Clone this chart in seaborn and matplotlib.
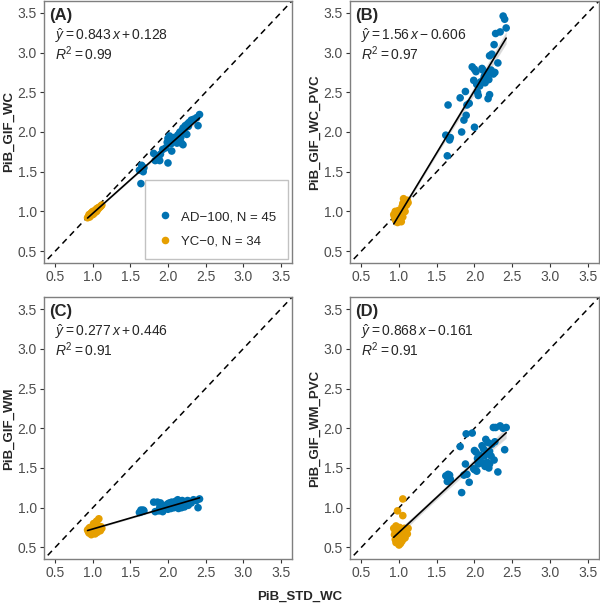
import pandas as pd
import matplotlib.pyplot as plt
import seaborn as sns

# PiB_STD_WC values (x, shared by all four panels)
ad_x = [1.62, 1.64, 1.65, 1.67, 1.68, 1.81, 1.83, 1.86, 1.88, 1.89,
        1.90, 1.93, 1.97, 1.99, 2.00, 2.00, 2.02, 2.03, 2.04, 2.05,
        2.07, 2.08, 2.10, 2.11, 2.12, 2.13, 2.14, 2.15, 2.16, 2.17,
        2.18, 2.19, 2.20, 2.20, 2.22, 2.23, 2.25, 2.26, 2.27, 2.28,
        2.31, 2.34, 2.38, 2.40, 2.42]
yc_x = [0.93, 0.94, 0.95, 0.95, 0.96, 0.96, 0.97, 0.97, 0.98, 0.98,
        0.99, 0.99, 1.00, 1.00, 1.00, 1.01, 1.01, 1.02, 1.02, 1.03,
        1.03, 1.04, 1.04, 1.05, 1.05, 1.06, 1.06, 1.07, 1.08, 1.09,
        1.10, 1.11, 1.12, 1.05]

# y values per panel
ad_gif_wc = [1.52, 1.35, 1.58, 1.50, 1.55, 1.73, 1.64, 1.66, 1.70, 1.64,
             1.72, 1.78, 1.80, 1.87, 1.61, 1.92, 1.95, 1.90, 1.85, 1.76,
             1.88, 1.93, 1.92, 1.90, 1.86, 1.96, 1.90, 1.98, 2.00, 1.93,
             1.86, 2.02, 1.84, 2.05, 2.04, 2.08, 1.97, 2.10, 2.07, 2.12,
             2.15, 2.16, 2.18, 2.08, 2.22]
yc_gif_wc = [0.92, 0.93, 0.94, 0.96, 0.93, 0.95, 0.95, 0.97, 0.96, 0.98,
             0.97, 0.99, 0.96, 0.98, 1.00, 0.97, 0.99, 0.98, 1.00, 0.99,
             1.01, 1.00, 1.02, 1.01, 1.03, 1.02, 1.04, 1.03, 1.05, 1.05,
             1.06, 1.07, 1.08, 1.00]

ad_gif_wc_pvc = [1.96, 1.70, 2.34, 1.90, 1.93, 2.43, 2.00, 2.15, 2.51, 2.21,
                 2.34, 2.36, 2.82, 2.65, 2.06, 2.79, 2.76, 2.60, 2.50, 2.46,
                 2.58, 2.63, 2.80, 2.78, 2.66, 2.70, 2.62, 2.75, 2.68, 2.72,
                 2.42, 2.66, 2.47, 2.96, 2.78, 2.98, 2.73, 3.10, 2.75, 3.24,
                 2.87, 3.26, 3.46, 3.42, 3.31]
yc_gif_wc_pvc = [0.96, 0.93, 0.90, 1.00, 0.88, 0.97, 0.93, 0.99, 0.86, 0.95,
                 0.90, 1.01, 0.92, 0.97, 0.88, 1.00, 0.94, 0.96, 0.90, 1.02,
                 0.87, 0.98, 1.06, 0.93, 1.10, 0.99, 1.16, 1.04, 1.00, 1.13,
                 1.08, 1.14, 1.11, 1.02]

ad_gif_wm = [0.94, 0.97, 0.95, 0.97, 0.96, 1.07, 0.95, 1.07, 0.96, 1.00,
             1.06, 0.95, 1.03, 1.00, 1.05, 0.98, 1.06, 1.02, 0.99, 1.07,
             1.04, 1.00, 1.08, 1.02, 1.05, 1.10, 0.99, 1.06, 1.03, 1.08,
             1.00, 1.09, 1.04, 1.06, 1.01, 1.07, 1.05, 1.09, 1.03, 1.08,
             1.06, 1.10, 1.09, 1.00, 1.11]
yc_gif_wm = [0.72, 0.70, 0.74, 0.68, 0.71, 0.75, 0.69, 0.73, 0.66, 0.71,
             0.74, 0.70, 0.68, 0.76, 0.72, 0.70, 0.80, 0.69, 0.73, 0.67,
             0.78, 0.71, 0.74, 0.70, 0.83, 0.72, 0.69, 0.75, 0.86, 0.73,
             0.71, 0.76, 0.74, 0.82]

ad_gif_wm_pvc = [1.40, 1.33, 1.42, 1.41, 1.36, 1.77, 1.19, 1.41, 1.55, 1.93,
                 1.42, 1.32, 1.94, 1.49, 1.72, 1.48, 1.70, 1.46, 1.62, 1.55,
                 1.66, 1.58, 1.78, 1.56, 1.74, 1.65, 1.52, 1.86, 1.68, 1.57,
                 1.82, 1.50, 1.71, 1.55, 1.65, 1.80, 2.01, 1.60, 1.83, 2.01,
                 1.45, 2.03, 2.00, 1.73, 2.01]
yc_gif_wm_pvc = [0.74, 0.66, 0.70, 0.60, 0.77, 0.56, 0.68, 0.73, 0.62, 0.96,
                 0.58, 0.66, 0.71, 0.53, 0.64, 0.75, 0.60, 0.68, 0.55, 0.72,
                 0.63, 0.67, 0.58, 0.90, 0.70, 0.61, 0.66, 0.74, 0.62, 0.68,
                 0.73, 0.67, 0.74, 1.11]

panel_tags = ["(A)", "(B)", "(C)", "(D)"]
y_names = ["PiB_GIF_WC", "PiB_GIF_WC_PVC", "PiB_GIF_WM", "PiB_GIF_WM_PVC"]
equations = [r"$\hat{y} = 0.843\,x + 0.128$", r"$\hat{y} = 1.56\,x - 0.606$",
             r"$\hat{y} = 0.277\,x + 0.446$", r"$\hat{y} = 0.868\,x - 0.161$"]
r2_labels = [r"$R^2 = 0.99$", r"$R^2 = 0.97$", r"$R^2 = 0.91$", r"$R^2 = 0.91$"]
groups = ["AD\u2212100, N = 45", "YC\u22120, N = 34"]
ticks = [0.5, 1.0, 1.5, 2.0, 2.5, 3.0, 3.5]

df = pd.DataFrame({
    "PiB_STD_WC": ad_x + yc_x,
    "group": [groups[0]] * len(ad_x) + [groups[1]] * len(yc_x),
    "PiB_GIF_WC": ad_gif_wc + yc_gif_wc,
    "PiB_GIF_WC_PVC": ad_gif_wc_pvc + yc_gif_wc_pvc,
    "PiB_GIF_WM": ad_gif_wm + yc_gif_wm,
    "PiB_GIF_WM_PVC": ad_gif_wm_pvc + yc_gif_wm_pvc,
})

sns.set_style("white")
plt.rcParams["font.family"] = ["Liberation Sans", "DejaVu Sans"]
plt.rcParams["mathtext.fontset"] = "custom"
plt.rcParams["mathtext.rm"] = "Liberation Sans"
plt.rcParams["mathtext.it"] = "Liberation Sans:italic"

palette = {groups[0]: "#0072B2", groups[1]: "#E69F00"}

fig = plt.figure(figsize=(6, 6.08), dpi=100)
# [left, bottom, width, height] of the four panels
boxes = [[0.0733, 0.5674, 0.4133, 0.4310],
         [0.5833, 0.5674, 0.4150, 0.4310],
         [0.0733, 0.0801, 0.4133, 0.4310],
         [0.5833, 0.0801, 0.4150, 0.4310]]

for i, col in enumerate(y_names):
    ax = fig.add_axes(boxes[i])
    ax.plot([0.4, 3.7], [0.4, 3.7], ls=(0, (4, 3)), color="black", lw=1.1, zorder=1)
    sns.scatterplot(data=df, x="PiB_STD_WC", y=col, hue="group", palette=palette,
                    s=30, edgecolor="none", ax=ax, legend=(i == 0), zorder=2)
    sns.regplot(data=df, x="PiB_STD_WC", y=col, scatter=False, ax=ax,
                color="black", line_kws={"lw": 1.2, "zorder": 3})
    ax.set_xlim(0.35, 3.65)
    ax.set_ylim(0.35, 3.65)
    ax.set_xticks(ticks)
    ax.set_yticks(ticks)
    ax.tick_params(axis="both", length=3, width=0.8, color="#333333",
                   labelsize=10, labelcolor="#4d4d4d", pad=2, bottom=True, left=True)
    for sp in ax.spines.values():
        sp.set_color("#7f7f7f")
        sp.set_linewidth(1.0)
    ax.set_xlabel("")
    ax.set_ylabel(col, fontsize=9.5, fontweight="bold", labelpad=2)
    ax.text(0.02, 0.975, panel_tags[i], transform=ax.transAxes, fontsize=12,
            fontweight="bold", va="top", ha="left")
    ax.text(0.045, 0.868, equations[i], transform=ax.transAxes, fontsize=10,
            va="center", ha="left")
    ax.text(0.045, 0.798, r2_labels[i], transform=ax.transAxes, fontsize=10,
            va="center", ha="left")
    if i == 0:
        leg = ax.legend(loc="lower right", frameon=True, fancybox=False,
                        fontsize=9.5, markerscale=1.0, handletextpad=0.6,
                        handlelength=1.2, borderpad=0.9, labelspacing=0.9,
                        borderaxespad=0.3, edgecolor="#b3b3b3",
                        title=" ", title_fontsize=5)
        leg.get_frame().set_linewidth(1.0)

fig.text(0.5, 0.018, "PiB_STD_WC", ha="center", va="center",
         fontsize=9.5, fontweight="bold")

plt.savefig("out.png", dpi=100)
plt.close()
